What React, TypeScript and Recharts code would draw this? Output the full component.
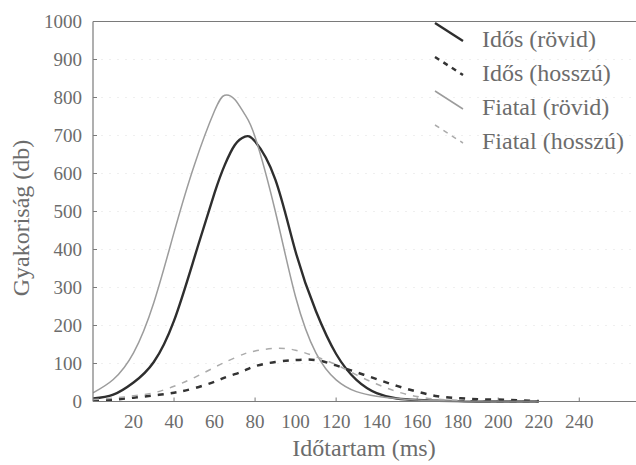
import React from "react";
import { LineChart, Line, XAxis, YAxis, CartesianGrid, ReferenceLine, Legend } from "recharts";

const xValues = [0, 10, 20, 30, 40, 50, 60, 65, 70, 75, 80, 90, 100, 110, 120, 130, 140, 150, 160, 170, 180, 190, 200, 210, 220];
const idosRovid = [8, 18, 50, 104, 213, 378, 549, 622, 675, 697, 684, 584, 394, 238, 125, 57, 22, 8, 4, 2, 1, 0, 0, 0, 0];
const idosHosszu = [3, 5, 10, 16, 23, 35, 52, 63, 72, 82, 93, 104, 109, 109, 95, 77, 59, 41, 26, 14, 9, 6, 5, 3, 1];
const fiatalRovid = [23, 58, 128, 260, 445, 622, 765, 806, 795, 755, 696, 500, 275, 128, 57, 26, 14, 8, 4, 2, 1, 0, 0, 0, 0];
const fiatalHosszu = [5, 9, 15, 23, 40, 63, 90, 103, 115, 126, 133, 140, 135, 118, 97, 70, 46, 26, 13, 6, 3, 1, 0, 0, 0];

const xTicks = [20, 40, 60, 80, 100, 120, 140, 160, 180, 200, 220, 240];
const yTicks = [0, 100, 200, 300, 400, 500, 600, 700, 800, 900, 1000];

const seriesNames = ["Idős (rövid)", "Idős (hosszú)", "Fiatal (rövid)", "Fiatal (hosszú)"];
const xTitle = "Időtartam (ms)";
const yTitle = "Gyakoriság (db)";

const data = xValues.map((x, i) => ({
  x,
  idosRovid: idosRovid[i],
  idosHosszu: idosHosszu[i],
  fiatalRovid: fiatalRovid[i],
  fiatalHosszu: fiatalHosszu[i],
}));

const FONT = '"Liberation Serif", "Times New Roman", "DejaVu Serif", "Noto Serif", Times, serif';
const TEXT = "#6c6c6c";
const AXIS = "#7a7a7a";
const PLOT_LEFT = 93;
const PLOT_BOTTOM = 401.5;

const styles = [
  { key: "idosRovid", stroke: "#2e2e2e", width: 2.4, dash: undefined },
  { key: "idosHosszu", stroke: "#333", width: 2.5, dash: "6 7" },
  { key: "fiatalRovid", stroke: "#9c9c9c", width: 1.5, dash: undefined },
  { key: "fiatalHosszu", stroke: "#ababab", width: 1.5, dash: "6 7" },
];

const textStyle = { fontFamily: FONT };

const XTick = (props: any) => {
  const { x, payload } = props;
  const v = payload.value;
  return (
    <g>
      {v % 40 === 0 ? <line x1={x} x2={x} y1={PLOT_BOTTOM} y2={PLOT_BOTTOM - 4} stroke={AXIS} strokeWidth={1} /> : null}
      <text x={x} y={421} textAnchor="middle" dominantBaseline="central" style={textStyle} fontSize={19} fill={TEXT}>
        {v}
      </text>
    </g>
  );
};

const YTick = (props: any) => {
  const { y, payload } = props;
  return (
    <g>
      <line x1={PLOT_LEFT} x2={PLOT_LEFT + 4} y1={y} y2={y} stroke={AXIS} strokeWidth={1} />
      <text x={82} y={y} textAnchor="end" dominantBaseline="central" style={textStyle} fontSize={19} fill={TEXT}>
        {payload.value}
      </text>
    </g>
  );
};

const rowY = [39, 73, 107, 141];

const LegendContent = () => (
  <svg width={636} height={465} style={{ position: "absolute", left: 0, top: 0 }}>
    {seriesNames.map((name, i) => {
      const s = styles[i];
      const y = rowY[i];
      return (
        <g key={name}>
          <line x1={435} y1={y - 16} x2={463} y2={y + 2} stroke={s.stroke} strokeWidth={s.width} strokeDasharray={s.dash ? "5 5" : undefined} />
          <text x={482} y={y} dominantBaseline="central" style={textStyle} fontSize={24} fill={TEXT}>
            {name}
          </text>
        </g>
      );
    })}
    <text x={364} y={448} textAnchor="middle" dominantBaseline="central" style={textStyle} fontSize={24} fill={TEXT}>
      {xTitle}
    </text>
    <text x={21} y={218} textAnchor="middle" dominantBaseline="central" style={textStyle} fontSize={24} fill={TEXT} transform="rotate(-90 21 218)">
      {yTitle}
    </text>
  </svg>
);

export default function App() {
  return (
    <div style={{ position: "absolute", left: 0, top: 0, width: 636, height: 465, background: "#fff" }}>
      <LineChart width={636} height={465} data={data} margin={{ top: 21.5, right: 0, bottom: 0, left: 0 }}>
        <CartesianGrid vertical={false} stroke="#efefef" strokeDasharray="2 6" />
        <XAxis
          dataKey="x"
          type="number"
          domain={[0, 268]}
          ticks={xTicks}
          allowDataOverflow
          height={63.5}
          axisLine={{ stroke: AXIS, strokeWidth: 1.2 }}
          tickLine={false}
          tick={<XTick />}
          interval={0}
        />
        <YAxis
          type="number"
          domain={[0, 1000]}
          ticks={yTicks}
          width={93}
          axisLine={{ stroke: AXIS, strokeWidth: 1.2 }}
          tickLine={false}
          tick={<YTick />}
          interval={0}
        />
        <ReferenceLine y={1000} stroke={AXIS} strokeWidth={1.2} />
        {styles.map((s, i) => (
          <Line
            key={s.key}
            type="natural"
            dataKey={s.key}
            name={seriesNames[i]}
            stroke={s.stroke}
            strokeWidth={s.width}
            strokeDasharray={s.dash}
            dot={false}
            activeDot={false}
            isAnimationActive={false}
          />
        ))}
        <Legend
          layout="vertical"
          align="center"
          verticalAlign="middle"
          content={<LegendContent />}
          wrapperStyle={{ position: "absolute", left: 0, top: 0, width: 636, height: 465, pointerEvents: "none" }}
        />
      </LineChart>
    </div>
  );
}
